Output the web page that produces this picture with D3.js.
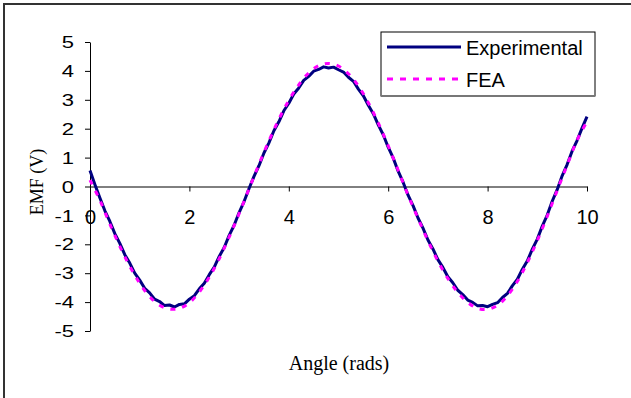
<!DOCTYPE html>
<html>
<head>
<meta charset="utf-8">
<script src="https://cdn.jsdelivr.net/npm/d3@7"></script>
<style>
  html, body { margin: 0; padding: 0; background: #fff; }
  svg { display: block; }
</style>
</head>
<body>
<svg id="chart" width="631" height="398"></svg>
<script>
// Measured back-EMF (sampled every 0.1 rad) and finite-element prediction (every 0.2 rad)
const expAngles = d3.range(0, 10.0001, 0.1).map(v => +v.toFixed(1));
const expEmf = [
  0.55, 0.06, -0.40, -0.84, -1.21, -1.63, -1.97, -2.36, -2.65, -3.00,
  -3.24, -3.52, -3.68, -3.90, -3.98, -4.12, -4.10, -4.17, -4.08, -4.06,
  -3.90, -3.78, -3.54, -3.35, -3.05, -2.79, -2.42, -2.11, -1.69, -1.34,
  -0.90, -0.52, -0.07, 0.35, 0.72, 1.16, 1.51, 1.93, 2.24, 2.62,
  2.88, 3.20, 3.41, 3.67, 3.81, 3.99, 4.05, 4.14, 4.10, 4.13,
  4.04, 3.96, 3.78, 3.64, 3.37, 3.14, 2.81, 2.52, 2.13, 1.79,
  1.36, 0.99, 0.53, 0.15, -0.30, -0.66, -1.09, -1.44, -1.85, -2.16,
  -2.53, -2.80, -3.12, -3.33, -3.59, -3.74, -3.93, -4.01, -4.13, -4.12,
  -4.16, -4.08, -4.02, -3.84, -3.70, -3.43, -3.21, -2.86, -2.57, -2.17,
  -1.82, -1.37, -0.99, -0.51, -0.11, 0.37, 0.76, 1.22, 1.59, 2.02,
  2.42
];
const feaAngles = d3.range(0, 10.0001, 0.2).map(v => +v.toFixed(1));
const feaEmf = [
  0.22, -0.48, -1.30, -2.07, -2.76, -3.35, -3.81, -4.11, -4.24, -4.22,
  -4.02, -3.65, -3.14, -2.50, -1.75, -0.94, -0.08, 0.77, 1.58, 2.33,
  2.98, 3.52, 3.93, 4.18, 4.26, 4.17, 3.90, 3.48, 2.90, 2.20,
  1.41, 0.56, -0.30, -1.10, -1.88, -2.58, -3.18, -3.66, -4.01, -4.22,
  -4.25, -4.11, -3.78, -3.28, -2.63, -1.87, -1.03, -0.14, 0.74, 1.60,
  2.25
];
const xTicks = [0, 2, 4, 6, 8, 10];
const yTicks = [-5, -4, -3, -2, -1, 0, 1, 2, 3, 4, 5];
const seriesNames = ["Experimental", "FEA"];
const seriesColors = ["#000080", "#ff00ff"];

const svg = d3.select("#chart");

// outer chart frame (only the left and top edges fall inside the view)
svg.append("rect")
  .attr("x", 4).attr("y", 4)
  .attr("width", 660).attr("height", 420)
  .attr("fill", "none").attr("stroke", "#333").attr("stroke-width", 2);

const x = d3.scaleLinear().domain([0, 10]).range([90, 587]);
const y = d3.scaleLinear().domain([-5, 5]).range([331, 42]);

// y axis
const yAxis = svg.append("g")
  .attr("transform", `translate(${x(0)},0)`)
  .call(d3.axisLeft(y).tickValues(yTicks).tickSize(5).tickSizeOuter(0).tickFormat(d3.format("d")));
yAxis.select(".domain").attr("stroke", "#000");
yAxis.selectAll(".tick line").attr("stroke", "#000");
yAxis.selectAll(".tick text")
  .attr("x", 0).attr("dy", "0.355em")
  .attr("transform", "translate(-16,0) scale(1,0.72)")
  .attr("font-family", "'Liberation Sans', Arial, sans-serif")
  .attr("font-size", 22).attr("fill", "#000")
  .text(d => d < 0 ? "-" + Math.abs(d) : d);

// x axis drawn through zero
const xAxis = svg.append("g")
  .attr("transform", `translate(0,${y(0)})`)
  .call(d3.axisBottom(x).tickValues(xTicks).tickSize(5).tickSizeOuter(0).tickFormat(d3.format("d")));
xAxis.select(".domain").attr("stroke", "#000");
xAxis.selectAll(".tick line").attr("stroke", "#000");
xAxis.selectAll(".tick text")
  .attr("y", 37).attr("dy", 0)
  .attr("font-family", "'Liberation Sans', Arial, sans-serif")
  .attr("font-size", 20).attr("fill", "#000");

// axis titles
svg.append("text")
  .attr("x", 339).attr("y", 370)
  .attr("text-anchor", "middle")
  .attr("font-family", "'Liberation Serif', 'Times New Roman', serif")
  .attr("font-size", 20)
  .text("Angle (rads)");
svg.append("text")
  .attr("transform", "translate(43,182) rotate(-90)")
  .attr("text-anchor", "middle")
  .attr("font-family", "'Liberation Serif', 'Times New Roman', serif")
  .attr("font-size", 18)
  .text("EMF (V)");

// series
const line = d3.line().x(d => x(d[0])).y(d => y(d[1]));
svg.append("path")
  .datum(expAngles.map((a, i) => [a, expEmf[i]]))
  .attr("d", line.curve(d3.curveLinear))
  .attr("fill", "none").attr("stroke", seriesColors[0])
  .attr("stroke-width", 3).attr("stroke-linejoin", "round");
svg.append("path")
  .datum(feaAngles.map((a, i) => [a, feaEmf[i]]))
  .attr("d", d3.line().x(d => x(d[0])).y(d => y(d[1])).curve(d3.curveCatmullRom)(feaAngles.map((a, i) => [a, feaEmf[i]])))
  .attr("fill", "none").attr("stroke", seriesColors[1])
  .attr("stroke-width", 3).attr("stroke-dasharray", "5,7");

// legend
const legend = svg.append("g");
legend.append("rect")
  .attr("x", 381).attr("y", 32).attr("width", 214).attr("height", 64)
  .attr("fill", "#fff").attr("stroke", "#000").attr("stroke-width", 1);
legend.append("line")
  .attr("x1", 381).attr("x2", 595).attr("y1", 96).attr("y2", 96)
  .attr("stroke", "#777").attr("stroke-width", 2);
const rows = [{ y: 47, dash: null }, { y: 79, dash: "6,7" }];
rows.forEach((r, i) => {
  legend.append("line")
    .attr("x1", 387).attr("x2", 461).attr("y1", r.y).attr("y2", r.y)
    .attr("stroke", seriesColors[i]).attr("stroke-width", 3)
    .attr("stroke-dasharray", r.dash);
  legend.append("text")
    .attr("x", 466).attr("y", r.y + 7.5)
    .attr("font-family", "'Liberation Sans', Arial, sans-serif")
    .attr("font-size", 20)
    .text(seriesNames[i]);
});
</script>
</body>
</html>
